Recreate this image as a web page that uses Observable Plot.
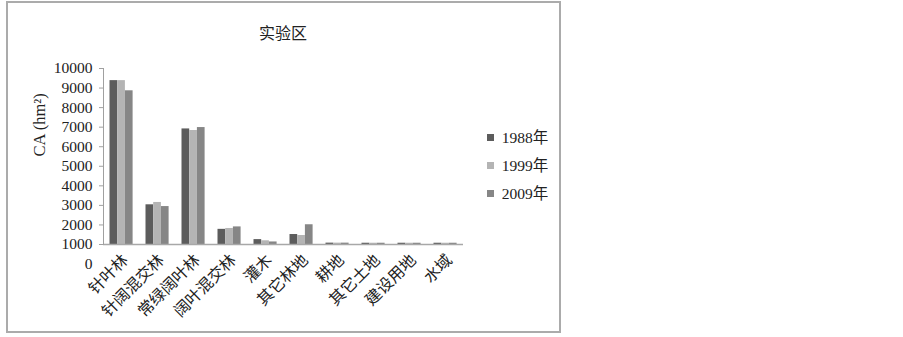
<!DOCTYPE html>
<html>
<head>
<meta charset="utf-8">
<script src="https://cdn.jsdelivr.net/npm/d3@7"></script>
<script src="https://cdn.jsdelivr.net/npm/@observablehq/plot@0.6"></script>
<style>
  html, body { margin: 0; padding: 0; background: #fff; }
  body { width: 903px; height: 337px; position: relative; overflow: hidden;
         font-family: "Liberation Serif", "Noto Sans CJK SC", serif; color: #222; }
  #box { position: absolute; left: 6px; top: 1px; width: 555px; height: 332px;
         border: 2px solid #ababab; box-sizing: border-box; }
  #title { position: absolute; left: 233px; width: 100px; top: 20px; text-align: center;
           font-size: 16px; font-family: "Noto Sans CJK SC", serif; color: #222; }
  #chart { position: absolute; left: 0; top: 0; }
  #legend { position: absolute; left: 487px; top: 124px; }
</style>
</head>
<body>
<div id="box"></div>
<div id="title">实验区</div>
<div id="chart"></div>
<div id="legend"></div>
<script>
const categories = ["针叶林", "针阔混交林", "常绿阔叶林", "阔叶混交林", "灌木", "其它林地", "耕地", "其它土地", "建设用地", "水域"];
const years = ["1988年", "1999年", "2009年"];
const ca1988 = [9380, 3030, 6910, 1775, 1250, 1510, 1070, 1065, 1065, 1065];
const ca1999 = [9380, 3150, 6830, 1820, 1190, 1460, 1070, 1065, 1065, 1065];
const ca2009 = [8860, 2940, 6980, 1900, 1130, 2010, 1070, 1065, 1065, 1065];
const yTicks = [1000, 2000, 3000, 4000, 5000, 6000, 7000, 8000, 9000, 10000];
const strayTick = [0];
const baseline = 1000;
const colors = ["#5c5c5c", "#b4b4b4", "#868686"];

const series = [ca1988, ca1999, ca2009];
const rows = [];
years.forEach((yr, i) => categories.forEach((c, j) => rows.push({cat: c, year: yr, value: series[i][j]})));

const step = 36, lead = 6.5, barW = 7.7;
const barMarks = years.map((yr, i) => Plot.barY(rows.filter(d => d.year === yr), {
  x: "cat", y1: () => baseline, y2: "value", fill: "year",
  insetLeft: lead + barW * i, insetRight: step - lead - barW * (i + 1)
}));

const fontFam = '"Liberation Serif", "Noto Sans CJK SC", serif';
const fmt = d3.format("d");

const chart = Plot.plot({
  width: 560, height: 337,
  marginLeft: 103, marginRight: 97, marginTop: 68, marginBottom: 93,
  style: {fontFamily: fontFam, fontSize: "15px", color: "#222", background: "transparent"},
  x: {type: "band", domain: categories, paddingInner: 0, paddingOuter: 0, axis: null},
  y: {domain: [1000, 10000], axis: null},
  color: {domain: years, range: colors},
  marks: [
    ...barMarks,
    Plot.ruleY([baseline], {stroke: "#a8a8a8", strokeWidth: 1.5}),
    Plot.frame({anchor: "left", stroke: "#a0a0a0", strokeWidth: 1}),
    Plot.axisY(yTicks, {tickSize: 4, tickPadding: 7, stroke: "#a0a0a0", fill: "#222", fontSize: 15.5, tickFormat: fmt, label: null}),
    Plot.axisY(strayTick, {tickSize: 0, tickPadding: 11, fill: "#222", fontSize: 15.5, tickFormat: fmt, label: null}),
    Plot.axisX({tickRotate: -45, tickSize: 0, tickPadding: 13, dx: 4, fontSize: 16, fill: "#222", label: null}),
    Plot.text(["CA (hm²)"], {frameAnchor: "left", rotate: -90, dx: -64, fontSize: 16.5, fill: "#222"})
  ]
});
document.getElementById("chart").appendChild(chart);

const legend = Plot.legend({
  color: {domain: years, range: colors},
  legend: "swatches", columns: 1, swatchSize: 7,
  style: {fontFamily: fontFam, fontSize: "15.5px", color: "#222", lineHeight: "27px"}
});
document.getElementById("legend").appendChild(legend);
</script>
</body>
</html>
